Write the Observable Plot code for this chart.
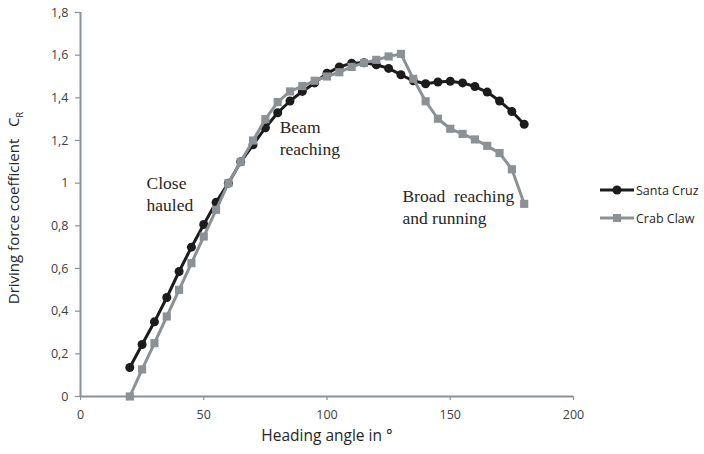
<!DOCTYPE html>
<html>
<head>
<meta charset="utf-8">
<script src="https://cdn.jsdelivr.net/npm/d3@7"></script>
<script src="https://cdn.jsdelivr.net/npm/@observablehq/plot@0.6"></script>
<style>
  html, body { margin: 0; padding: 0; background: #fff; }
  #wrap { position: relative; width: 704px; height: 454px; }
  #legend { position: absolute; left: 600px; top: 176px; font-family: "Open Sans", sans-serif; font-size: 12.5px; color: #262626; }
  #legend div { display: flex; align-items: center; height: 28px; }
  #legend svg { margin-right: 2px; }
</style>
</head>
<body>
<div id="wrap"><div id="legend"></div></div>
<script>
const angles = [20,25,30,35,40,45,50,55,60,65,70,75,80,85,90,95,100,105,110,115,120,125,130,135,140,145,150,155,160,165,170,175,180];
const santaCruz = [0.136,0.244,0.35,0.464,0.586,0.70,0.806,0.91,1.0,1.10,1.18,1.26,1.33,1.385,1.43,1.47,1.515,1.545,1.562,1.564,1.555,1.538,1.508,1.48,1.466,1.474,1.478,1.47,1.453,1.427,1.385,1.336,1.276];
const crabClaw = [0,0.127,0.25,0.375,0.5,0.625,0.75,0.875,1.0,1.10,1.20,1.30,1.38,1.43,1.455,1.48,1.50,1.52,1.545,1.564,1.578,1.594,1.606,1.489,1.384,1.302,1.255,1.231,1.205,1.175,1.141,1.065,0.903];
const seriesNames = ["Santa Cruz", "Crab Claw"];
const seriesColors = ["#1c1c1c", "#8b9194"];
const xTicks = [0,50,100,150,200];
const yTicks = [0,0.2,0.4,0.6,0.8,1,1.2,1.4,1.6,1.8];
const annotations = [
  {x: 26.8, y: 1.047, text: "Close\nhauled"},
  {x: 80.8, y: 1.307, text: "Beam\nreaching"},
  {x: 130.6, y: 0.985, text: "Broad  reaching\nand running"}
];
const xLabel = "Heading angle in °";
const yLabel = "Driving force coefficient   C";
const yLabelSub = "R";

const sc = angles.map((a, i) => ({angle: a, value: santaCruz[i]}));
const cc = angles.map((a, i) => ({angle: a, value: crabClaw[i]}));
const fmt = d => String(+d.toFixed(1)).replace(".", ",");
const axisColor = "#8b9194";

const chart = Plot.plot({
  width: 704,
  height: 454,
  marginLeft: 80,
  marginRight: 131,
  marginTop: 12,
  marginBottom: 58,
  style: {fontFamily: "'Open Sans', sans-serif", fontSize: "12.5px", color: "#404040", background: "transparent"},
  x: {domain: [0, 200]},
  y: {domain: [0, 1.8]},
  marks: [
    Plot.axisX({ticks: xTicks, tickSize: 4, tickPadding: 10, tickFormat: d => String(d), label: null, stroke: axisColor, strokeWidth: 1.2}),
    Plot.axisY({ticks: yTicks, tickSize: 5, tickPadding: 7, tickFormat: fmt, label: null, stroke: axisColor, strokeWidth: 1.2}),
    Plot.ruleY([0], {stroke: axisColor, strokeWidth: 2}),
    Plot.ruleX([0], {stroke: axisColor, strokeWidth: 2}),
    Plot.line(sc, {x: "angle", y: "value", stroke: seriesColors[0], strokeWidth: 3}),
    Plot.dot(sc, {x: "angle", y: "value", r: 4.5, fill: seriesColors[0], symbol: "circle"}),
    Plot.line(cc, {x: "angle", y: "value", stroke: seriesColors[1], strokeWidth: 3}),
    Plot.dot(cc, {x: "angle", y: "value", r: 4.6, fill: seriesColors[1], symbol: "square"}),
    Plot.text(annotations, {x: "x", y: "y", text: "text", textAnchor: "start", lineAnchor: "top", lineHeight: 1.25, fontFamily: "'Liberation Serif', serif", fontSize: 17.5, fill: "#262626"}),
    Plot.text([xLabel], {frameAnchor: "bottom", dy: 44, fontSize: 15.5, fill: "#262626", fontFamily: "'Open Sans', sans-serif"})
  ]
});

const svg = d3.select(chart);
const yl = svg.append("text")
  .attr("transform", "translate(19,208) rotate(-90)")
  .attr("text-anchor", "middle")
  .attr("font-family", "'Open Sans', sans-serif")
  .attr("font-size", 15)
  .attr("fill", "#262626");
yl.append("tspan").text(yLabel);
yl.append("tspan").attr("font-size", 9.5).attr("dy", 4).text(yLabelSub);

document.getElementById("wrap").prepend(chart);

const legend = d3.select("#legend");
seriesNames.forEach((name, i) => {
  const row = legend.append("div");
  const s = row.append("svg").attr("width", 34).attr("height", 14);
  s.append("line").attr("x1", 0).attr("x2", 34).attr("y1", 7).attr("y2", 7).attr("stroke", seriesColors[i]).attr("stroke-width", 3);
  if (i === 0) s.append("circle").attr("cx", 17).attr("cy", 7).attr("r", 4.5).attr("fill", seriesColors[i]);
  else s.append("rect").attr("x", 13).attr("y", 3).attr("width", 8).attr("height", 8).attr("fill", seriesColors[i]);
  row.append("span").text(name);
});
</script>
</body>
</html>
